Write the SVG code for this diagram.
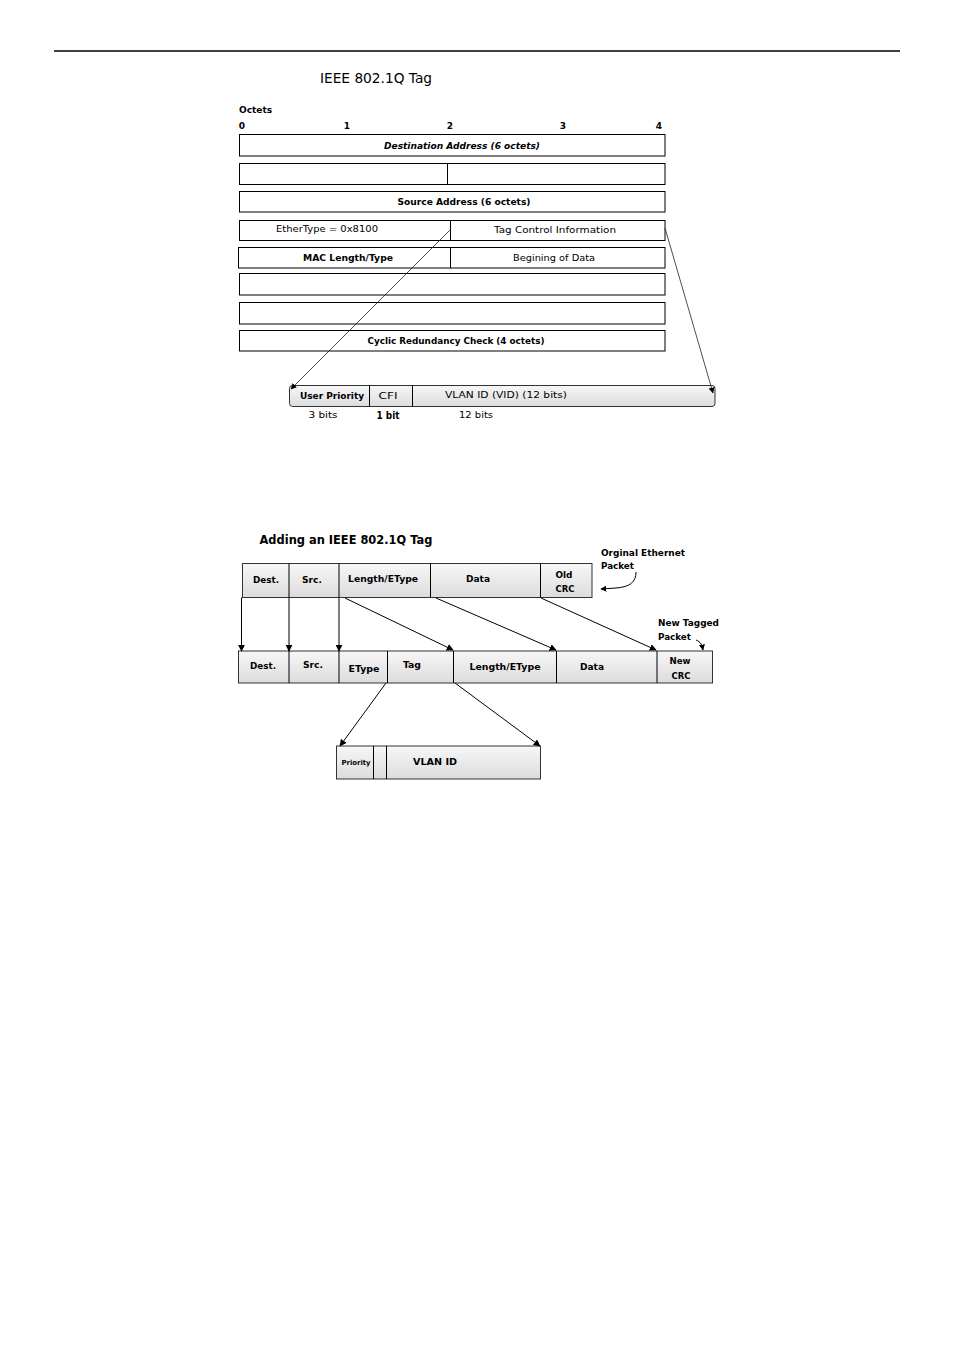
<svg xmlns="http://www.w3.org/2000/svg" width="954" height="1350" viewBox="0 0 954 1350">
<defs>
<linearGradient id="g1" x1="0" y1="0" x2="0" y2="1">
<stop offset="0" stop-color="#f7f7f7"/>
<stop offset="1" stop-color="#dcdcdc"/>
</linearGradient>
<marker id="ah" viewBox="0 0 10 10" refX="9" refY="5" markerWidth="7" markerHeight="7" orient="auto" markerUnits="userSpaceOnUse">
<path d="M0,0 L10,5 L0,10 z" fill="#000"/>
</marker>
<marker id="ahs" viewBox="0 0 10 10" refX="9" refY="5" markerWidth="6" markerHeight="6" orient="auto" markerUnits="userSpaceOnUse">
<path d="M0,0 L10,5 L0,10 z" fill="#000"/>
</marker>
</defs>
<style>
.t{font-family:"DejaVu Sans","Liberation Sans",sans-serif;fill:#000}
.b{font-weight:bold}
.box{fill:#fff;stroke:#000;stroke-width:1}
.gbox{fill:url(#g1);stroke:#333;stroke-width:1}
.ln{stroke:#000;stroke-width:1;fill:none}
.thin{stroke:#222;stroke-width:0.8;fill:none}
</style>

<line x1="54" y1="51" x2="900" y2="51" stroke="#000" stroke-width="1.3"/>

<g id="title1"><text class="t" x="376" y="83" font-size="14" text-anchor="middle" textLength="112" lengthAdjust="spacingAndGlyphs">IEEE 802.1Q Tag</text></g>

<g id="octets">
<text class="t b" x="239" y="113" font-size="9">Octets</text>
<text class="t b" x="242" y="129" font-size="9" text-anchor="middle">0</text>
<text class="t b" x="347" y="129" font-size="9" text-anchor="middle">1</text>
<text class="t b" x="450" y="129" font-size="9" text-anchor="middle">2</text>
<text class="t b" x="563" y="129" font-size="9" text-anchor="middle">3</text>
<text class="t b" x="659" y="129" font-size="9" text-anchor="middle">4</text>
</g>

<g id="row-dest">
<rect class="box" x="239.5" y="134.5" width="425.5" height="21.5"/>
<text class="t b" x="462" y="149" font-size="9" font-style="italic" text-anchor="middle" textLength="156" lengthAdjust="spacingAndGlyphs">Destination Address (6 octets)</text>
</g>
<g id="row-2">
<rect class="box" x="239.5" y="163.5" width="425.5" height="21"/>
<line class="ln" x1="447.5" y1="163.5" x2="447.5" y2="184.5"/>
</g>
<g id="row-src">
<rect class="box" x="239.5" y="191.5" width="425.5" height="20.5"/>
<text class="t b" x="464" y="205" font-size="9" text-anchor="middle" textLength="133" lengthAdjust="spacingAndGlyphs">Source Address (6 octets)</text>
</g>
<g id="row-ethertype">
<rect class="box" x="239.5" y="220.5" width="425.5" height="20"/>
<line class="ln" x1="450.5" y1="220.5" x2="450.5" y2="240.5"/>
<text class="t" x="327" y="232" font-size="9" text-anchor="middle" textLength="102" lengthAdjust="spacingAndGlyphs">EtherType = 0x8100</text>
<text class="t" x="555" y="233" font-size="9" text-anchor="middle" textLength="122" lengthAdjust="spacingAndGlyphs">Tag Control Information</text>
</g>
<g id="row-mac">
<rect class="box" x="238.5" y="247.5" width="426.5" height="20.5"/>
<line class="ln" x1="450.5" y1="247.5" x2="450.5" y2="268"/>
<text class="t b" x="348" y="261" font-size="9" text-anchor="middle" textLength="90" lengthAdjust="spacingAndGlyphs">MAC Length/Type</text>
<text class="t" x="554" y="261" font-size="9" text-anchor="middle" textLength="82" lengthAdjust="spacingAndGlyphs">Begining of Data</text>
</g>
<g id="row-6"><rect class="box" x="239.5" y="273.5" width="425.5" height="21.5"/></g>
<g id="row-7"><rect class="box" x="239.5" y="302.5" width="425.5" height="21.5"/></g>
<g id="row-crc">
<rect class="box" x="239.5" y="330.5" width="425.5" height="20.5"/>
<text class="t b" x="456" y="344" font-size="9" text-anchor="middle" textLength="177" lengthAdjust="spacingAndGlyphs">Cyclic Redundancy Check (4 octets)</text>
</g>

<g id="tagbar">
<rect class="gbox" x="289.5" y="385.5" width="425.5" height="21" rx="3"/>
<line class="ln" x1="369.5" y1="385.5" x2="369.5" y2="406.5"/>
<line class="ln" x1="412.5" y1="385.5" x2="412.5" y2="406.5"/>
<text class="t b" x="332" y="399" font-size="9" text-anchor="middle" textLength="64" lengthAdjust="spacingAndGlyphs">User Priority</text>
<text class="t" x="388" y="399" font-size="9" text-anchor="middle" textLength="19" lengthAdjust="spacingAndGlyphs">CFI</text>
<text class="t" x="506" y="398" font-size="9" text-anchor="middle" textLength="122" lengthAdjust="spacingAndGlyphs">VLAN ID (VID) (12 bits)</text>
<text class="t" x="323" y="418" font-size="9" text-anchor="middle" textLength="29" lengthAdjust="spacingAndGlyphs">3 bits</text>
<text class="t b" x="388" y="419" font-size="10" text-anchor="middle" textLength="23" lengthAdjust="spacingAndGlyphs">1 bit</text>
<text class="t" x="476" y="418" font-size="9" text-anchor="middle" textLength="34" lengthAdjust="spacingAndGlyphs">12 bits</text>
</g>

<g id="title2"><text class="t b" x="346" y="544" font-size="12" text-anchor="middle" textLength="173" lengthAdjust="spacingAndGlyphs">Adding an IEEE 802.1Q Tag</text></g>

<g id="orig-packet">
<rect class="gbox" x="242.5" y="563.5" width="349.5" height="34"/>
<line class="ln" x1="289" y1="563.5" x2="289" y2="597.5"/>
<line class="ln" x1="339" y1="563.5" x2="339" y2="597.5"/>
<line class="ln" x1="430.5" y1="563.5" x2="430.5" y2="597.5"/>
<line class="ln" x1="540.5" y1="563.5" x2="540.5" y2="597.5"/>
<text class="t b" x="266" y="583" font-size="9" text-anchor="middle" textLength="26" lengthAdjust="spacingAndGlyphs">Dest.</text>
<text class="t b" x="312" y="583" font-size="9" text-anchor="middle" textLength="20" lengthAdjust="spacingAndGlyphs">Src.</text>
<text class="t b" x="383" y="582" font-size="9" text-anchor="middle" textLength="70" lengthAdjust="spacingAndGlyphs">Length/EType</text>
<text class="t b" x="478" y="582" font-size="9" text-anchor="middle" textLength="24" lengthAdjust="spacingAndGlyphs">Data</text>
<text class="t b" x="564" y="578" font-size="9" text-anchor="middle" textLength="17" lengthAdjust="spacingAndGlyphs">Old</text>
<text class="t b" x="565" y="592" font-size="9" text-anchor="middle" textLength="19" lengthAdjust="spacingAndGlyphs">CRC</text>
</g>

<g id="orig-label">
<text class="t b" x="601" y="556" font-size="9" textLength="84" lengthAdjust="spacingAndGlyphs">Orginal Ethernet</text>
<text class="t b" x="601" y="569" font-size="9" textLength="33" lengthAdjust="spacingAndGlyphs">Packet</text>
</g>

<g id="new-packet">
<rect class="gbox" x="238.5" y="651" width="474" height="32"/>
<line class="ln" x1="289" y1="651" x2="289" y2="683"/>
<line class="ln" x1="339" y1="651" x2="339" y2="683"/>
<line class="ln" x1="387.5" y1="651" x2="387.5" y2="683"/>
<line class="ln" x1="453.5" y1="651" x2="453.5" y2="683"/>
<line class="ln" x1="556.5" y1="651" x2="556.5" y2="683"/>
<line class="ln" x1="657" y1="651" x2="657" y2="683"/>
<text class="t b" x="263" y="669" font-size="9" text-anchor="middle" textLength="26" lengthAdjust="spacingAndGlyphs">Dest.</text>
<text class="t b" x="313" y="668" font-size="9" text-anchor="middle" textLength="20" lengthAdjust="spacingAndGlyphs">Src.</text>
<text class="t b" x="364" y="672" font-size="9" text-anchor="middle" textLength="31" lengthAdjust="spacingAndGlyphs">EType</text>
<text class="t b" x="412" y="668" font-size="9" text-anchor="middle" textLength="18" lengthAdjust="spacingAndGlyphs">Tag</text>
<text class="t b" x="505" y="670" font-size="9" text-anchor="middle" textLength="71" lengthAdjust="spacingAndGlyphs">Length/EType</text>
<text class="t b" x="592" y="670" font-size="9" text-anchor="middle" textLength="24" lengthAdjust="spacingAndGlyphs">Data</text>
<text class="t b" x="680" y="664" font-size="9" text-anchor="middle" textLength="21" lengthAdjust="spacingAndGlyphs">New</text>
<text class="t b" x="681" y="679" font-size="9" text-anchor="middle" textLength="19" lengthAdjust="spacingAndGlyphs">CRC</text>
</g>

<g id="new-label">
<text class="t b" x="658" y="626" font-size="9" textLength="61" lengthAdjust="spacingAndGlyphs">New Tagged</text>
<text class="t b" x="658" y="640" font-size="9" textLength="33" lengthAdjust="spacingAndGlyphs">Packet</text>
</g>

<g id="tag-box">
<rect class="gbox" x="336.5" y="746" width="204" height="33"/>
<line class="ln" x1="373.5" y1="746" x2="373.5" y2="779"/>
<line class="ln" x1="386.5" y1="746" x2="386.5" y2="779"/>
<text class="t b" x="356" y="765" font-size="7" text-anchor="middle" textLength="29" lengthAdjust="spacingAndGlyphs">Priority</text>
<text class="t b" x="435" y="765" font-size="9" text-anchor="middle" textLength="44" lengthAdjust="spacingAndGlyphs">VLAN ID</text>
</g>

<g id="connectors">
<line class="thin" x1="450" y1="230" x2="291" y2="389" marker-end="url(#ahs)"/>
<line class="thin" x1="665" y1="228" x2="713" y2="393" marker-end="url(#ahs)"/>
<line class="ln" x1="241.5" y1="597.5" x2="241.5" y2="651" marker-end="url(#ah)"/>
<line class="ln" x1="289" y1="597.5" x2="289" y2="651" marker-end="url(#ah)"/>
<line class="ln" x1="339" y1="597.5" x2="339" y2="651" marker-end="url(#ah)"/>
<line class="ln" x1="345" y1="598" x2="453" y2="650" marker-end="url(#ah)"/>
<line class="ln" x1="436" y1="598" x2="556" y2="650" marker-end="url(#ah)"/>
<line class="ln" x1="541" y1="598" x2="656" y2="650" marker-end="url(#ah)"/>
<path class="ln" d="M636,572 C636,582 630,587 616,588 L601,589" marker-end="url(#ahs)"/>
<path class="ln" d="M696,640 C701,642 702,645 703,650" marker-end="url(#ahs)"/>
<line class="ln" x1="386" y1="683" x2="340" y2="746" marker-end="url(#ah)"/>
<line class="ln" x1="455" y1="683" x2="540" y2="746" marker-end="url(#ah)"/>
</g>
</svg>
